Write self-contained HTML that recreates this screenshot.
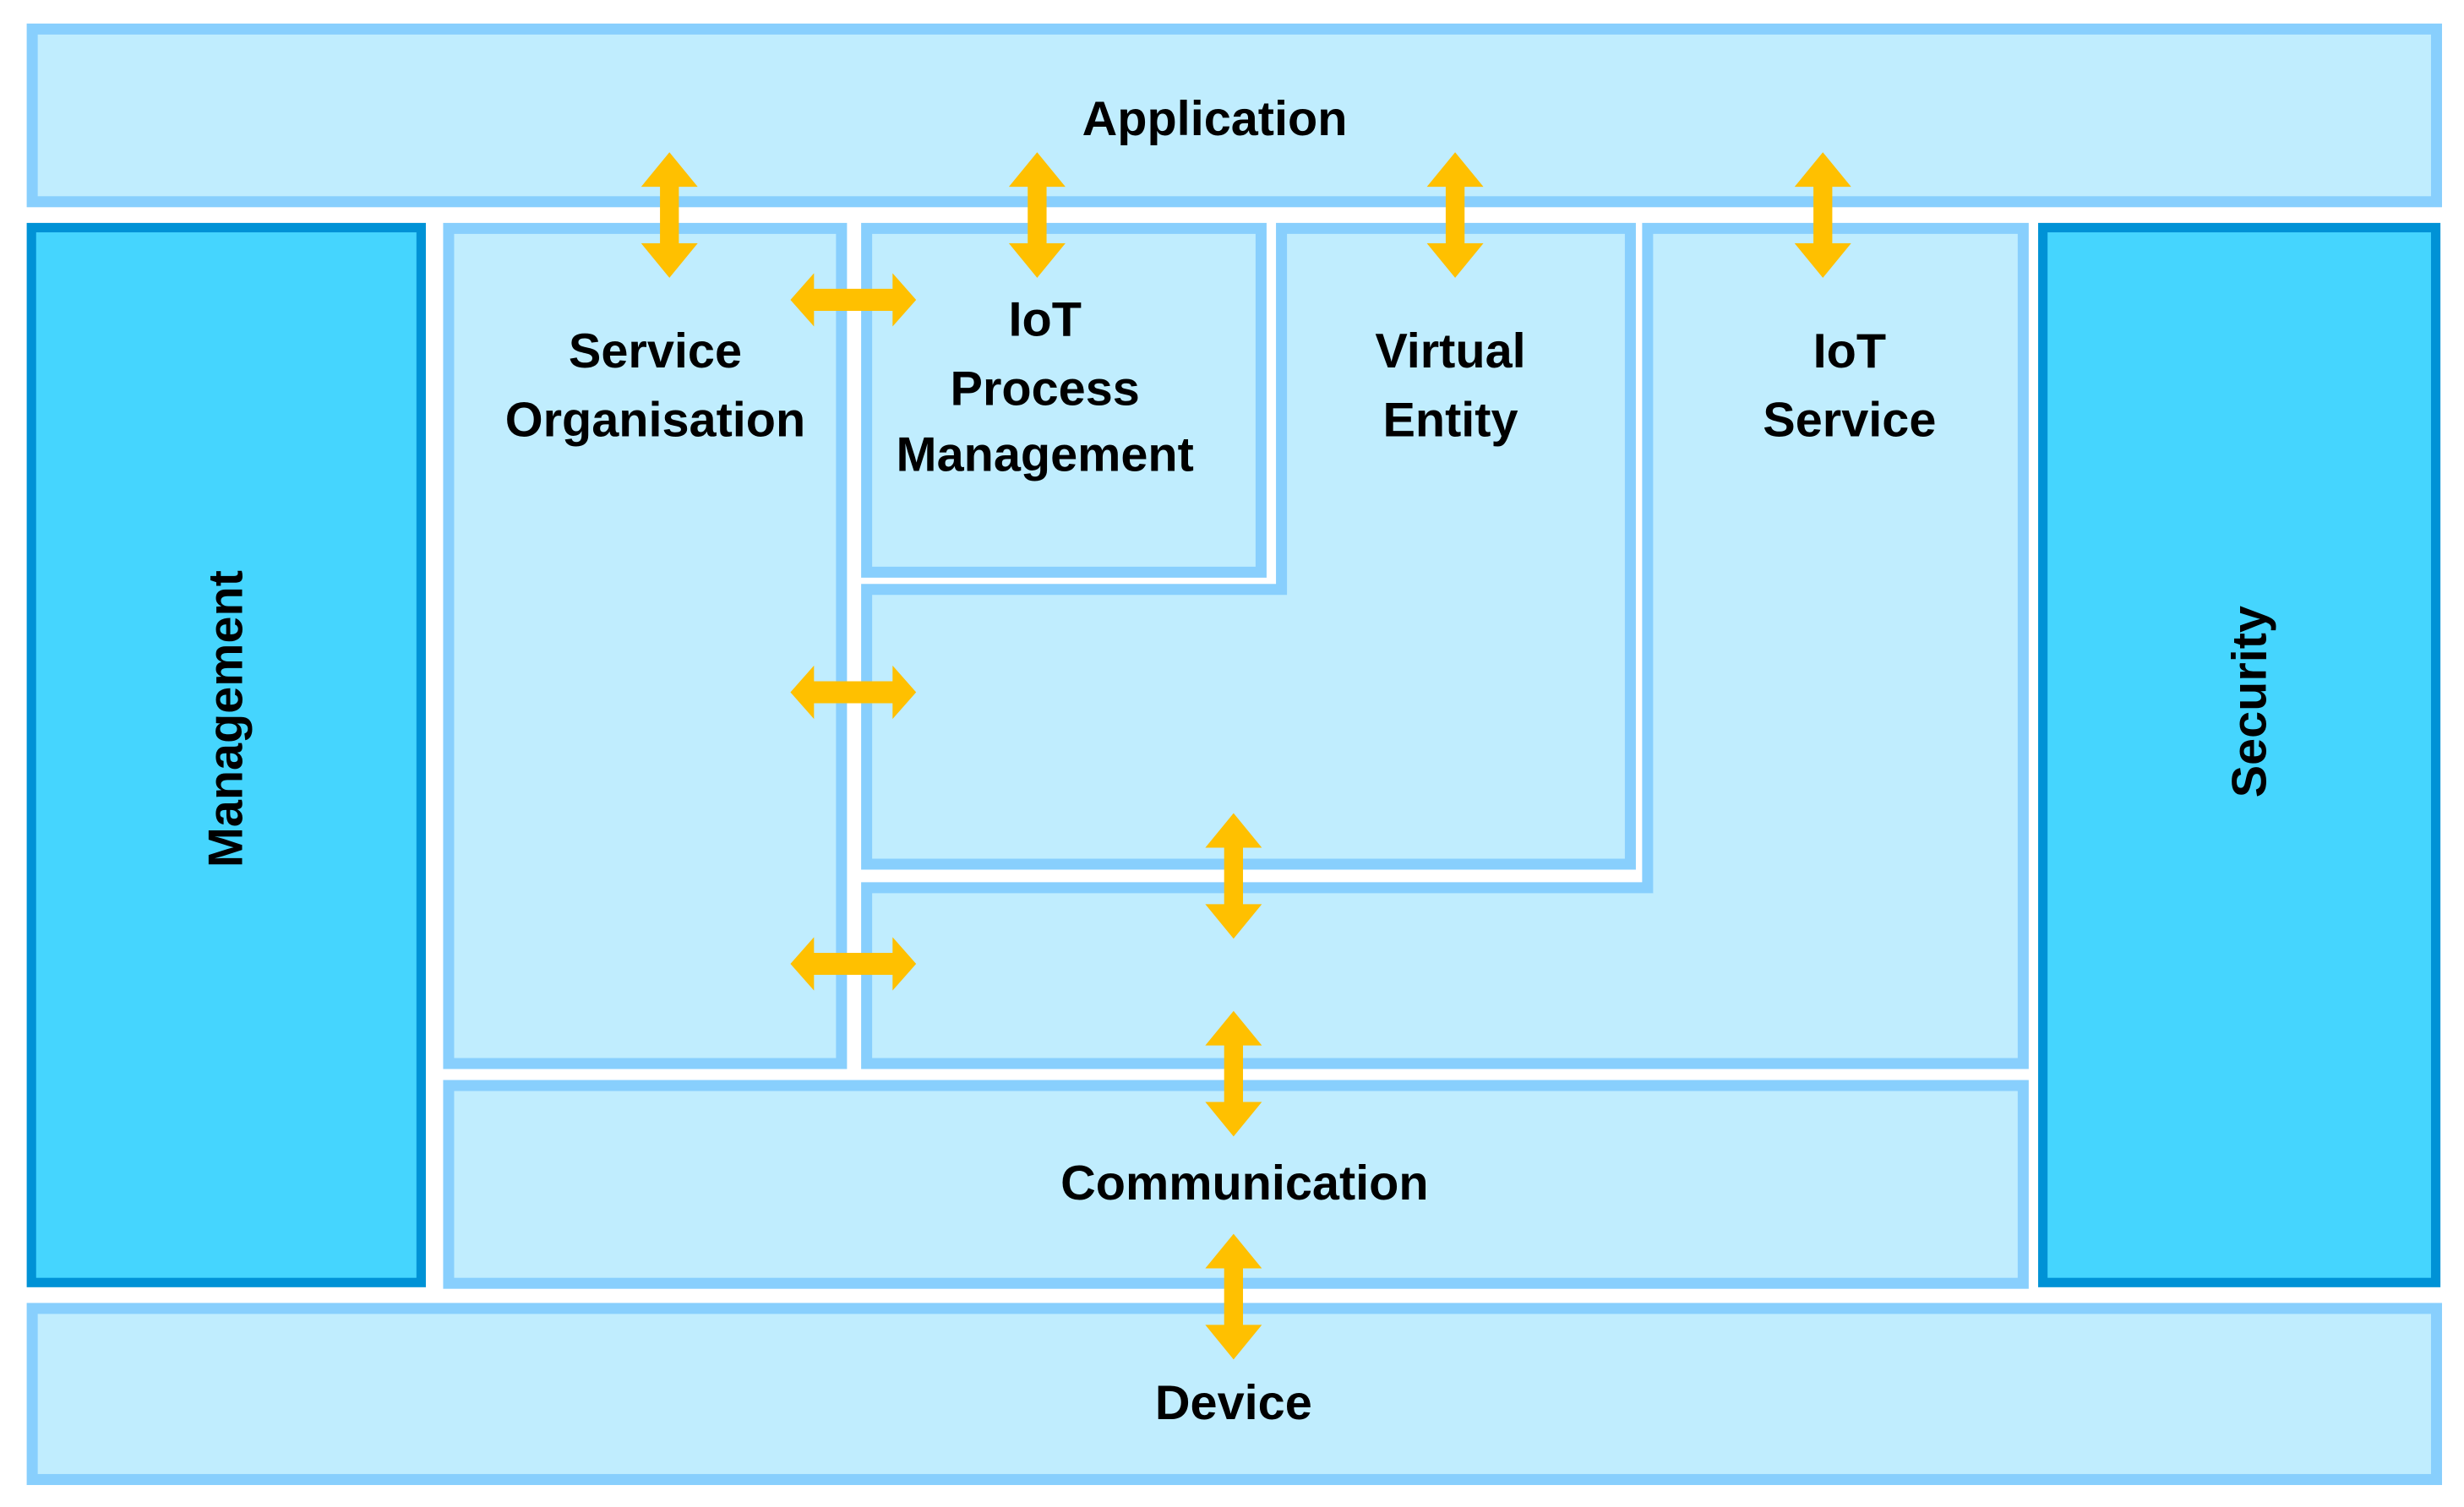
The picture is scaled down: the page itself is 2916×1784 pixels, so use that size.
<!DOCTYPE html>
<html><head><meta charset="utf-8"><style>html,body{margin:0;padding:0;background:#fff}svg{display:block}</style></head>
<body>
<svg width="2916" height="1784" viewBox="0 0 1568 960" preserveAspectRatio="none" xmlns="http://www.w3.org/2000/svg">
<rect width="1568" height="960" fill="#fff"/>
<g fill="#c0edfe" stroke="#88cffd" stroke-width="7">
<rect x="20.5" y="18.5" width="1530" height="110"/>
<rect x="285.5" y="145.5" width="250" height="532"/>
<rect x="551.5" y="145.5" width="251" height="219"/>
<polygon points="815.5,145.5 1037.5,145.5 1037.5,550.5 551.5,550.5 551.5,375.5 815.5,375.5"/>
<polygon points="1048.5,145.5 1287.5,145.5 1287.5,677.5 551.5,677.5 551.5,565.5 1048.5,565.5"/>
<rect x="285.5" y="691.5" width="1002" height="126"/>
<rect x="20.5" y="833.5" width="1530" height="109"/>
</g>
<g fill="#45d5fe" stroke="#0092d6" stroke-width="6">
<rect x="20" y="145" width="248" height="672"/>
<rect x="1300" y="145" width="250" height="672"/>
</g>
<g fill="#ffc000">
<path id="va" d="M0,-40 L18,-18 L6,-18 L6,18 L18,18 L0,40 L-18,18 L-6,18 L-6,-18 L-18,-18 Z" transform="translate(426,137)"/>
<path d="M0,-40 L18,-18 L6,-18 L6,18 L18,18 L0,40 L-18,18 L-6,18 L-6,-18 L-18,-18 Z" transform="translate(660,137)"/>
<path d="M0,-40 L18,-18 L6,-18 L6,18 L18,18 L0,40 L-18,18 L-6,18 L-6,-18 L-18,-18 Z" transform="translate(926,137)"/>
<path d="M0,-40 L18,-18 L6,-18 L6,18 L18,18 L0,40 L-18,18 L-6,18 L-6,-18 L-18,-18 Z" transform="translate(1160,137)"/>
<path d="M0,-40 L18,-18 L6,-18 L6,18 L18,18 L0,40 L-18,18 L-6,18 L-6,-18 L-18,-18 Z" transform="translate(785,558)"/>
<path d="M0,-40 L18,-18 L6,-18 L6,18 L18,18 L0,40 L-18,18 L-6,18 L-6,-18 L-18,-18 Z" transform="translate(785,684)"/>
<path d="M0,-40 L18,-18 L6,-18 L6,18 L18,18 L0,40 L-18,18 L-6,18 L-6,-18 L-18,-18 Z" transform="translate(785,826)"/>
<path d="M-40,0 L-25,-17 L-25,-7 L25,-7 L25,-17 L40,0 L25,17 L25,7 L-25,7 L-25,17 Z" transform="translate(543,191)"/>
<path d="M-40,0 L-25,-17 L-25,-7 L25,-7 L25,-17 L40,0 L25,17 L25,7 L-25,7 L-25,17 Z" transform="translate(543,441)"/>
<path d="M-40,0 L-25,-17 L-25,-7 L25,-7 L25,-17 L40,0 L25,17 L25,7 L-25,7 L-25,17 Z" transform="translate(543,614)"/>
</g>
<g font-family="Liberation Sans, Arial, sans-serif" font-weight="bold" font-size="31" fill="#000" text-anchor="middle">
<text x="773" y="86">Application</text>
<text x="417" y="234">Service</text>
<text x="417" y="278">Organisation</text>
<text x="665" y="214">IoT</text>
<text x="665" y="258">Process</text>
<text x="665" y="300">Management</text>
<text x="923" y="234">Virtual</text>
<text x="923" y="278">Entity</text>
<text x="1177" y="234">IoT</text>
<text x="1177" y="278">Service</text>
<text x="792" y="764">Communication</text>
<text x="785" y="904">Device</text>
<text transform="translate(154,458) rotate(-90)">Management</text>
<text transform="translate(1442,447) rotate(-90)">Security</text>
</g>
</svg>
</body></html>
